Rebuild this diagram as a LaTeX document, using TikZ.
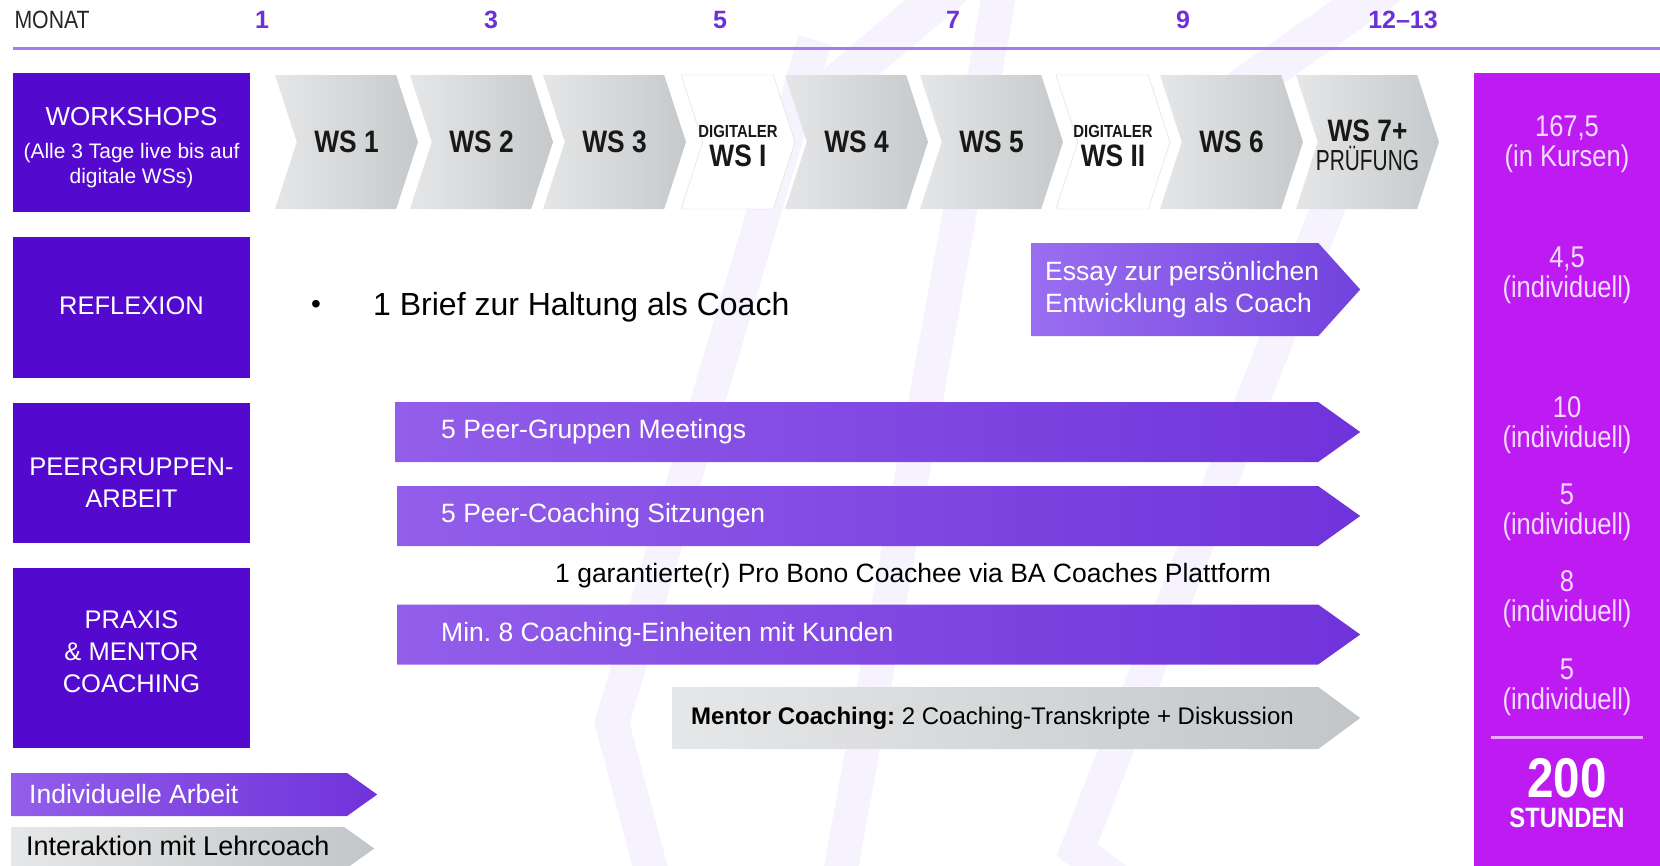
\documentclass[tikz,border=0pt]{standalone}
\usepackage{fontspec}
\setmainfont{Liberation Sans}
\newfontfamily\condfont[FakeStretch=0.85]{Liberation Sans}
\newfontfamily\narrowfont[FakeStretch=0.72]{Liberation Sans}
\usepackage{tikz}
\usetikzlibrary{positioning, shapes.symbols}
\frenchspacing

\definecolor{topic}{RGB}{84,10,206}
\definecolor{total}{RGB}{190,27,242}
\definecolor{totaltxt}{RGB}{246,218,255}
\definecolor{totalrule}{RGB}{236,170,255}
\definecolor{month}{RGB}{108,48,218}
\definecolor{monthrule}{RGB}{160,124,236}
\definecolor{barL}{RGB}{146,94,234}
\definecolor{barR}{RGB}{112,51,218}
\definecolor{essL}{RGB}{154,110,240}
\definecolor{essM}{RGB}{168,134,247}
\definecolor{essR}{RGB}{114,66,222}
\definecolor{greyL}{RGB}{230,231,232}
\definecolor{greyR}{RGB}{194,198,200}
\definecolor{chevL}{RGB}{229,230,231}
\definecolor{chevR}{RGB}{198,201,203}
\definecolor{wmark}{RGB}{246,242,254}
\definecolor{ink}{RGB}{24,24,24}

\begin{document}
\begin{tikzpicture}[x=1pt,y=-1pt]
		\tikzset{
			topicbox/.style={rectangle, fill=topic, minimum width=237pt, inner sep=0pt},
			topictext/.style={text=white, align=center, inner sep=0pt, font=\fontsize{25.5}{32}\selectfont},
			chevbase/.style={signal, signal from=west, signal to=east, signal pointer angle=144, minimum width=143pt, minimum height=134pt, inner sep=0pt, align=center, text=ink, font=\condfont\bfseries\fontsize{31}{31}\selectfont},
			chev/.style={chevbase, left color=chevL, right color=chevR},
			digichev/.style={chevbase, fill=white, draw=black!15, minimum width=114pt},
			chevtext/.style={align=center, inner sep=0pt, text=ink, font=\condfont\bfseries\fontsize{31}{31}\selectfont},
			bar/.style={signal, signal to=east, inner sep=0pt, minimum height=60pt, signal pointer angle=71, anchor=west, left color=barL, middle color=barR, right color=barR},
			greybar/.style={bar, left color=greyL, middle color=greyL!45!greyR, right color=greyR},
			bartext/.style={text=white, anchor=west, inner sep=0pt, font=\fontsize{26.5}{32}\selectfont, align=left},
			total/.style={text=totaltxt, align=center, font=\condfont\fontsize{30}{30}\selectfont},
			monthno/.style={text=month, font=\bfseries\fontsize{25}{25}\selectfont},
		}
		\useasboundingbox (0,0) rectangle (1660,865);

		%watermark in the back
		\draw[wmark, line width=34pt] (815,40) -- (612,723) -- (655,885);
		\draw[wmark, line width=34pt] (1000,-10) -- (838,885);
		\draw[wmark, line width=34pt] (1370,100) -- (1077,850) -- (1130,890);
		\draw[wmark, line width=40pt] (960,-20) -- (830,90);
		\draw[wmark, line width=40pt] (1395,-20) -- (1240,90);

		%month scale
		\node (monat) [anchor=west, text=black!85, font=\condfont\fontsize{25}{25}\selectfont] at (11,20) {MONAT};
		\node (m1) [monthno] at (262,20) {1};
		\node (m3) [monthno] at (491,20) {3};
		\node (m5) [monthno] at (720,20) {5};
		\node (m7) [monthno] at (953,20) {7};
		\node (m9) [monthno] at (1183,20) {9};
		\node (m12) [monthno] at (1403,20) {12--13};
		\draw[monthrule, line width=3pt] (13,48) -- (1660,48);

		%left column
		\node (ws) [topicbox, minimum height=139pt] at (131.5,142.5) {};
		\node (wslbl) [topictext, font=\fontsize{21}{24.5}\selectfont] at ([yshift=-5pt]ws.center)
					{{\fontsize{26}{26}\selectfont WORKSHOPS}\\[9pt]
					(Alle 3 Tage live bis auf\\
					digitale WSs)};
		\node (refl) [topicbox, minimum height=141pt] at (131.5,307.5) {};
		\node (refllbl) [topictext] at ([yshift=2pt]refl.center) {REFLEXION};
		\node (peer) [topicbox, minimum height=140pt] at (131.5,473) {};
		\node (peerlbl) [topictext] at ([yshift=-10pt]peer.center) {PEERGRUPPEN-\\ARBEIT};
		\node (prax) [topicbox, minimum height=180pt] at (131.5,658) {};
		\node (praxlbl) [topictext] at ([yshift=6pt]prax.center) {PRAXIS\\\& MENTOR\\COACHING};

		%workshop chevrons
		\node (ws1) [chev] at (346.5,142) {WS 1};
		\node (ws2) [chev] at (481.5,142) {WS 2};
		\node (ws3) [chev] at (614.5,142) {WS 3};
		\node (dws1) [digichev] at (738,142) {};
		\node (dws1lbl) [chevtext] at ([yshift=-4pt]dws1.center)
					{{\fontsize{17.5}{17.5}\selectfont DIGITALER}\\[-2pt] WS I};
		\node (ws4) [chev] at (856.5,142) {WS 4};
		\node (ws5) [chev] at (991.5,142) {WS 5};
		\node (dws2) [digichev] at (1113,142) {};
		\node (dws2lbl) [chevtext] at ([yshift=-4pt]dws2.center)
					{{\fontsize{17.5}{17.5}\selectfont DIGITALER}\\[-2pt] WS II};
		\node (ws6) [chev] at (1231.5,142) {WS 6};
		\node (ws7) [chev] at (1367.5,142) {};
		\node (ws7lbl) [chevtext] at ([yshift=-3.5pt]ws7.center)
					{WS 7+\\[-2pt]{\narrowfont\mdseries\fontsize{29}{29}\selectfont PRÜFUNG}};

		%reflexion
		\node (brief) [anchor=west, inner sep=0pt, font=\fontsize{32}{32}\selectfont] at (373,307) {1 Brief zur Haltung als Coach};
		\node (bul) [left=52pt of brief, inner sep=0pt, font=\fontsize{28}{28}\selectfont] {\textbullet};
		\node (essay) [bar, minimum height=93pt, minimum width=329pt, signal pointer angle=96,
					left color=essL, middle color=essM, right color=essR] at (1031,289.5) {};
		\node (essaytxt) [bartext, right=14pt of essay.west] {Essay zur persönlichen\\Entwicklung als Coach};

		%peer group work and practice
		\node (pgm) [bar, minimum width=965pt] at (395,432) {};
		\node (pgmtxt) [bartext, right=46pt of pgm.west] {5 Peer-Gruppen Meetings};
		\node (pcs) [bar, minimum width=963pt] at (397,516) {};
		\node (pcstxt) [bartext, right=44pt of pcs.west] {5 Peer-Coaching Sitzungen};
		\node (probono) [anchor=west, inner sep=0pt, font=\fontsize{26.5}{32}\selectfont] at (555,576)
					{1 garantierte(r) Pro Bono Coachee via BA Coaches Plattform};
		\node (kunden) [bar, minimum width=963pt] at (397,634.5) {};
		\node (kundentxt) [bartext, right=44pt of kunden.west] {Min. 8 Coaching-Einheiten mit Kunden};
		\node (mentor) [greybar, minimum height=62pt, minimum width=688pt, signal pointer angle=73] at (672,718) {};
		\node (mentortxt) [bartext, text=black, font=\fontsize{24}{28}\selectfont, right=19pt of mentor.west]
					{\textbf{Mentor Coaching:} 2 Coaching-Transkripte + Diskussion};

		%legend
		\node (indiv) [bar, minimum height=43pt, minimum width=366pt, signal pointer angle=71] at (11,794.5) {};
		\node (indivtxt) [bartext, right=18pt of indiv.west] {Individuelle Arbeit};
		\node (lehr) [greybar, minimum height=43pt, minimum width=363pt, signal pointer angle=71] at (11,848.5) {};
		\node (lehrtxt) [bartext, text=black, font=\fontsize{27}{32}\selectfont, right=15pt of lehr.west, yshift=3pt] {Interaktion mit Lehrcoach};

		%hours column
		\node (hours) [rectangle, fill=total, minimum width=186pt, minimum height=800pt, anchor=north west, inner sep=0pt] at (1474,73) {};
		\node (h1) [total] at (1567,144.5) {167,5\\(in Kursen)};
		\node (h2) [total] at (1567,275) {4,5\\(individuell)};
		\node (h3) [total] at (1567,425.5) {10\\(individuell)};
		\node (h4) [total] at (1567,512.5) {5\\(individuell)};
		\node (h5) [total] at (1567,599.5) {8\\(individuell)};
		\node (h6) [total] at (1567,687.5) {5\\(individuell)};
		\draw[totalrule, line width=3pt] (1491,737) -- (1643,737);
		\node (sum) [text=white, font=\condfont\bfseries\fontsize{56}{56}\selectfont] at (1567,778) {200};
		\node (sumlbl) [text=white, font=\condfont\bfseries\fontsize{28}{28}\selectfont] at (1567,818) {STUNDEN};

	\end{tikzpicture}
\end{document}
